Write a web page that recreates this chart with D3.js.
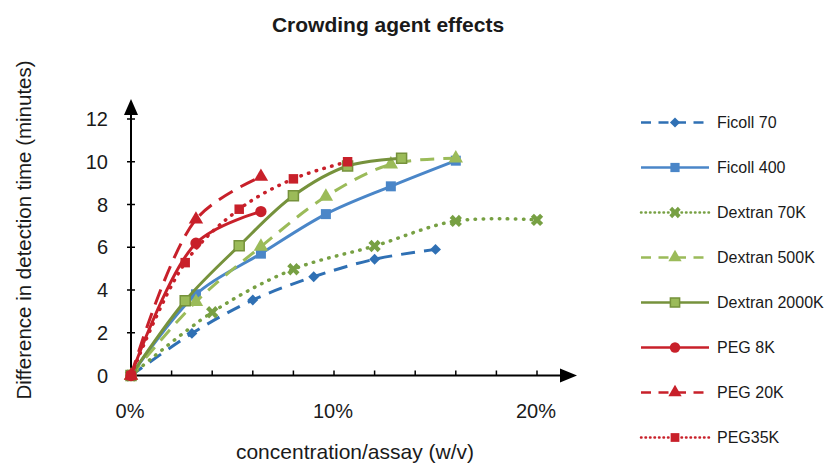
<!DOCTYPE html>
<html lang="en">
<head>
<meta charset="UTF-8">
<title>Crowding agent effects</title>
<script src="https://d3js.org/d3.v7.min.js"></script>
<style>
  body { margin: 0; background: #fff; }
  text { font-family: "Liberation Sans", Arial, sans-serif; fill: #1a1a1a; }
</style>
</head>
<body>
<svg id="chart" width="825" height="465"></svg>
<script>
// data (x in %, y in minutes)
const seriesNames = ['Ficoll 70', 'Ficoll 400', 'Dextran 70K', 'Dextran 500K',
                     'Dextran 2000K', 'PEG 8K', 'PEG 20K', 'PEG35K']
const ficoll70X = [0, 3, 6, 9, 12, 15]
const ficoll70Y = [0, 1.97, 3.53, 4.62, 5.44, 5.9]
const ficoll400X = [0, 3.2, 6.4, 9.6, 12.8, 16]
const ficoll400Y = [0, 3.8, 5.7, 7.55, 8.85, 10.05]
const dextran70X = [0, 4, 8, 12, 16, 20]
const dextran70Y = [0, 2.96, 4.97, 6.06, 7.23, 7.28]
const dextran500X = [0, 3.2, 6.4, 9.6, 12.8, 16]
const dextran500Y = [0, 3.45, 6.03, 8.37, 9.88, 10.16]
const dextran2000X = [0, 2.67, 5.33, 8, 10.67, 13.33]
const dextran2000Y = [0, 3.5, 6.07, 8.41, 9.8, 10.16]
const peg8X = [0, 3.2, 6.4]
const peg8Y = [0, 6.19, 7.67]
const peg20X = [0, 3.2, 6.4]
const peg20Y = [0, 7.3, 9.3]
const peg35X = [0, 2.67, 5.33, 8, 10.67]
const peg35Y = [0, 5.28, 7.78, 9.2, 10.0]
const xTickLabels = ['0%', '10%', '20%']
const yTicks = [0, 2, 4, 6, 8, 10, 12]

const xs = [ficoll70X, ficoll400X, dextran70X, dextran500X, dextran2000X, peg8X, peg20X, peg35X]
const ys = [ficoll70Y, ficoll400Y, dextran70Y, dextran500Y, dextran2000Y, peg8Y, peg20Y, peg35Y]

// look of each series
const styles = [
  {color: '#2f70b4', dash: '14,9', legendDash: '10,7.5', sym: d3.symbolSquare, size: 60, rot: 45},
  {color: '#4a86c8', dash: null, legendDash: null, sym: d3.symbolSquare, size: 100},
  {color: '#77a043', dash: '0.5,7.5', legendDash: '0.5,4', sym: d3.symbolCross, size: 95, rot: 45, dot: true},
  {color: '#9bbb59', dash: '14,9', legendDash: '10,7.5', sym: d3.symbolTriangle, size: 90},
  {color: '#76923c', dash: null, legendDash: null, sym: d3.symbolSquare, size: 100, fill: '#9bbb59'},
  {color: '#c8202a', dash: null, legendDash: null, sym: d3.symbolCircle, size: 100},
  {color: '#c8202a', dash: '16,9', legendDash: '10,7.5', sym: d3.symbolTriangle, size: 90},
  {color: '#c8202a', dash: '0.5,7.5', legendDash: '0.5,4', sym: d3.symbolSquare, size: 90, dot: true}
]

const svg = d3.select('#chart')

const x = d3.scaleLinear().domain([0, 22]).range([131, 577.6])
const y = d3.scaleLinear().domain([0, 12]).range([375.5, 119])

// title
svg.append('text')
  .attr('x', 388).attr('y', 32)
  .attr('text-anchor', 'middle')
  .style('font-size', '21px').style('font-weight', 'bold')
  .text('Crowding agent effects')

// axes
const axisG = svg.append('g')
axisG.append('line')
  .attr('x1', x(0)).attr('x2', 562).attr('y1', y(0)).attr('y2', y(0))
  .attr('stroke', '#000').attr('stroke-width', 2)
axisG.append('path')
  .attr('d', `M560,${y(0) - 7}L577,${y(0)}L560,${y(0) + 7}Z`).attr('fill', '#000')
axisG.append('line')
  .attr('x1', x(0)).attr('x2', x(0)).attr('y1', y(0)).attr('y2', 114)
  .attr('stroke', '#000').attr('stroke-width', 2)
axisG.append('path')
  .attr('d', `M${x(0) - 7},115L${x(0)},99L${x(0) + 7},115Z`).attr('fill', '#000')

// x ticks every 2%
axisG.selectAll('line.xt')
  .data(d3.range(2, 21, 2))
  .join('line').attr('class', 'xt')
  .attr('x1', d => x(d)).attr('x2', d => x(d))
  .attr('y1', y(0)).attr('y2', y(0) - 5)
  .attr('stroke', '#000').attr('stroke-width', 1.5)

axisG.selectAll('text.xl')
  .data(xTickLabels)
  .join('text').attr('class', 'xl')
  .attr('x', (d, i) => x(i * 10) - 1).attr('y', 418)
  .attr('text-anchor', 'middle')
  .style('font-size', '20px')
  .text(d => d)

axisG.selectAll('line.yt')
  .data(yTicks)
  .join('line').attr('class', 'yt')
  .attr('x1', x(0) - 4).attr('x2', x(0) + 4)
  .attr('y1', d => y(d)).attr('y2', d => y(d))
  .attr('stroke', '#000').attr('stroke-width', 1.5)

axisG.selectAll('text.yl')
  .data(yTicks)
  .join('text').attr('class', 'yl')
  .attr('x', 108).attr('y', d => y(d) + 7)
  .attr('text-anchor', 'end')
  .style('font-size', '20px')
  .text(d => d)

// axis titles
svg.append('text')
  .attr('transform', 'translate(31,230) rotate(-90)')
  .attr('text-anchor', 'middle')
  .style('font-size', '20.5px')
  .text('Difference in detection time (minutes)')

svg.append('text')
  .attr('x', 355).attr('y', 459)
  .attr('text-anchor', 'middle')
  .style('font-size', '21px')
  .text('concentration/assay (w/v)')

// series
const line = d3.line().curve(d3.curveCatmullRom.alpha(0.5))

const marker = (g, s, px, py) => {
  g.append('path')
    .attr('d', d3.symbol().type(s.sym).size(s.size)())
    .attr('transform', `translate(${px},${py})` + (s.rot ? ` rotate(${s.rot})` : ''))
    .attr('fill', s.fill || s.color)
    .attr('stroke', s.fill ? s.color : 'none')
    .attr('stroke-width', 1.5)
}

seriesNames.forEach((name, i) => {
  const s = styles[i]
  const pts = xs[i].map((v, j) => [x(v), y(ys[i][j])])
  const g = svg.append('g')
  g.append('path')
    .attr('d', line(pts))
    .attr('fill', 'none')
    .attr('stroke', s.color)
    .attr('stroke-width', s.dot ? 3.5 : 3)
    .attr('stroke-linecap', s.dot ? 'round' : 'butt')
    .attr('stroke-dasharray', s.dash)
  pts.forEach(p => marker(g, s, p[0], p[1]))
})

// legend
const lg = svg.append('g')
seriesNames.forEach((name, i) => {
  const s = styles[i]
  const ly = 122.5 + i * 45
  const g = lg.append('g')
  g.append('line')
    .attr('x1', 641).attr('x2', 709).attr('y1', ly).attr('y2', ly)
    .attr('stroke', s.color)
    .attr('stroke-width', 2.5)
    .attr('stroke-linecap', s.dot ? 'round' : 'butt')
    .attr('stroke-dasharray', s.legendDash)
  marker(g, Object.assign({}, s, {size: s.size * 0.85}), 675, ly)
  g.append('text')
    .attr('x', 717).attr('y', ly + 5.5)
    .style('font-size', '16px')
    .text(name)
})
</script>
</body>
</html>
